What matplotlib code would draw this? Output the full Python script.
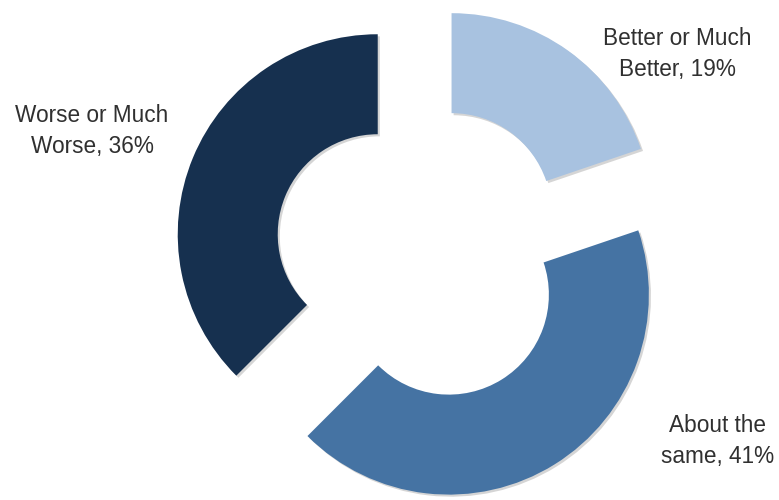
import matplotlib
matplotlib.use("Agg")
import matplotlib.pyplot as plt
import matplotlib.patheffects as pe

# Survey split, clockwise from 12 o'clock
labels = ["Better or Much\nBetter, 19%", "About the\nsame, 41%", "Worse or Much\nWorse, 36%"]
values = [19, 41, 36]
colors = ["#A8C2E0", "#4573A3", "#16304F"]

# label anchor points (canvas pixels, y up)
label_pos = [(677, 446), (718, 59), (92, 369)]

fig = plt.figure(figsize=(7.79, 5.00), dpi=100)
ax = fig.add_axes([0, 0, 1, 1])

wedges, _ = ax.pie(
    values,
    startangle=90,
    counterclock=False,
    colors=colors,
    radius=200,
    center=(423, 247),
    explode=[49, 49, 49],
    wedgeprops=dict(width=100, edgecolor="none", linewidth=0),
)
for w in wedges:
    w.set_path_effects([
        pe.SimplePatchShadow(offset=(1.5, -1.5), shadow_rgbFace="#888888", alpha=0.35),
        pe.Normal(),
    ])

for text, (x, y) in zip(labels, label_pos):
    ax.text(x, y, text, ha="center", va="center", fontsize=16.3,
            family=["Liberation Sans", "DejaVu Sans"],
            color="#303030", linespacing=1.4)

ax.set_xlim(0, 779)
ax.set_ylim(0, 500)
ax.set_aspect("equal")
ax.axis("off")

fig.savefig("out.png", dpi=100, facecolor="white")
